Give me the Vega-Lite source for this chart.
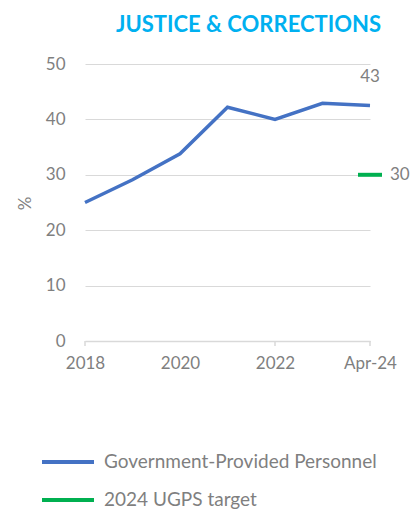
{
  "$schema": "https://vega.github.io/schema/vega-lite/v6.json",
  "width": 285,
  "height": 277,
  "autosize": {"type": "none"},
  "padding": {"left": 85, "top": 64, "right": 40, "bottom": 171},
  "background": "white",
  "title": {
    "text": "JUSTICE & CORRECTIONS",
    "font": "Lato",
    "fontSize": 22,
    "fontWeight": "bold",
    "color": "#00B0F0",
    "anchor": "middle",
    "dx": 21,
    "offset": 18
  },
  "config": {
    "view": {"stroke": null},
    "font": "Lato",
    "axis": {
      "labelFont": "Lato",
      "labelColor": "#7f7f7f",
      "labelFontSize": 17,
      "titleFont": "Lato",
      "titleColor": "#7f7f7f",
      "titleFontWeight": "normal",
      "titleFontSize": 17
    }
  },
  "datasets": {
    "gpp": [
      {"t": 2018, "label": "2018", "value": 25.0, "series": "Government-Provided Personnel"},
      {"t": 2019, "label": "2019", "value": 29.1, "series": "Government-Provided Personnel"},
      {"t": 2020, "label": "2020", "value": 33.8, "series": "Government-Provided Personnel"},
      {"t": 2021, "label": "2021", "value": 42.2, "series": "Government-Provided Personnel"},
      {"t": 2022, "label": "2022", "value": 40.0, "series": "Government-Provided Personnel"},
      {"t": 2023, "label": "2023", "value": 42.9, "series": "Government-Provided Personnel"},
      {"t": 2024, "label": "Apr-24", "value": 42.5, "series": "Government-Provided Personnel"}
    ],
    "target": [
      {"t": 2024, "value": 30, "series": "2024 UGPS target"}
    ]
  },
  "layer": [
    {
      "data": {"name": "gpp"},
      "mark": {"type": "line", "strokeWidth": 3.5, "clip": false},
      "encoding": {
        "x": {
          "field": "t",
          "type": "quantitative",
          "scale": {"domain": [2018, 2024], "nice": false, "zero": false},
          "axis": {
            "values": [2018, 2020, 2022, 2024],
            "labelExpr": "datum.value == 2024 ? 'Apr-24' : '' + datum.value",
            "title": null,
            "grid": false,
            "domain": true,
            "domainColor": "#d9d9d9",
            "domainWidth": 1.5,
            "ticks": false,
            "labelPadding": 14,
            "labelFlush": false
          }
        },
        "y": {
          "field": "value",
          "type": "quantitative",
          "scale": {"domain": [0, 50], "nice": false},
          "axis": {
            "values": [0, 10, 20, 30, 40, 50],
            "title": "%",
            "titleX": -60,
            "titleY": 139,
            "titleAlign": "center",
            "titleBaseline": "middle",
            "grid": true,
            "gridColor": "#d9d9d9",
            "gridWidth": 1.2,
            "domain": false,
            "ticks": false,
            "labelPadding": 20
          }
        },
        "color": {
          "field": "series",
          "type": "nominal",
          "scale": {
            "domain": ["Government-Provided Personnel", "2024 UGPS target"],
            "range": ["#4472C4", "#00B050"]
          },
          "legend": {
            "title": null,
            "orient": "none",
            "legendX": -45,
            "legendY": 370,
            "direction": "vertical",
            "symbolType": "stroke",
            "symbolSize": 2704,
            "symbolStrokeWidth": 4,
            "symbolOpacity": 1,
            "labelFont": "Lato",
            "labelFontSize": 19,
            "labelColor": "#7f7f7f",
            "labelOffset": 8,
            "rowPadding": -11,
            "labelLimit": 400
          }
        }
      }
    },
    {
      "data": {"name": "gpp"},
      "transform": [{"filter": "datum.t == 2024"}],
      "mark": {"type": "text", "dy": -29, "align": "center", "baseline": "middle", "fontSize": 17, "color": "#7f7f7f", "font": "Lato"},
      "encoding": {
        "x": {"field": "t", "type": "quantitative"},
        "y": {"field": "value", "type": "quantitative"},
        "text": {"field": "value", "type": "quantitative", "format": ".0f"}
      }
    },
    {
      "data": {"name": "target"},
      "mark": {"type": "tick", "orient": "horizontal", "size": 24, "thickness": 4, "opacity": 1, "clip": false},
      "encoding": {
        "x": {"field": "t", "type": "quantitative"},
        "y": {"field": "value", "type": "quantitative"},
        "color": {"field": "series", "type": "nominal"}
      }
    },
    {
      "data": {"name": "target"},
      "mark": {"type": "text", "dx": 20, "align": "left", "baseline": "middle", "fontSize": 17, "color": "#7f7f7f", "font": "Lato"},
      "encoding": {
        "x": {"field": "t", "type": "quantitative"},
        "y": {"field": "value", "type": "quantitative"},
        "text": {"field": "value", "type": "quantitative", "format": ".0f"}
      }
    },
    {
      "data": {"values": [{"t": 2018}, {"t": 2022}, {"t": 2024}]},
      "mark": {"type": "rule", "color": "#d9d9d9", "strokeWidth": 1.5, "y": 277, "y2": 282},
      "encoding": {
        "x": {"field": "t", "type": "quantitative"}
      }
    }
  ]
}
